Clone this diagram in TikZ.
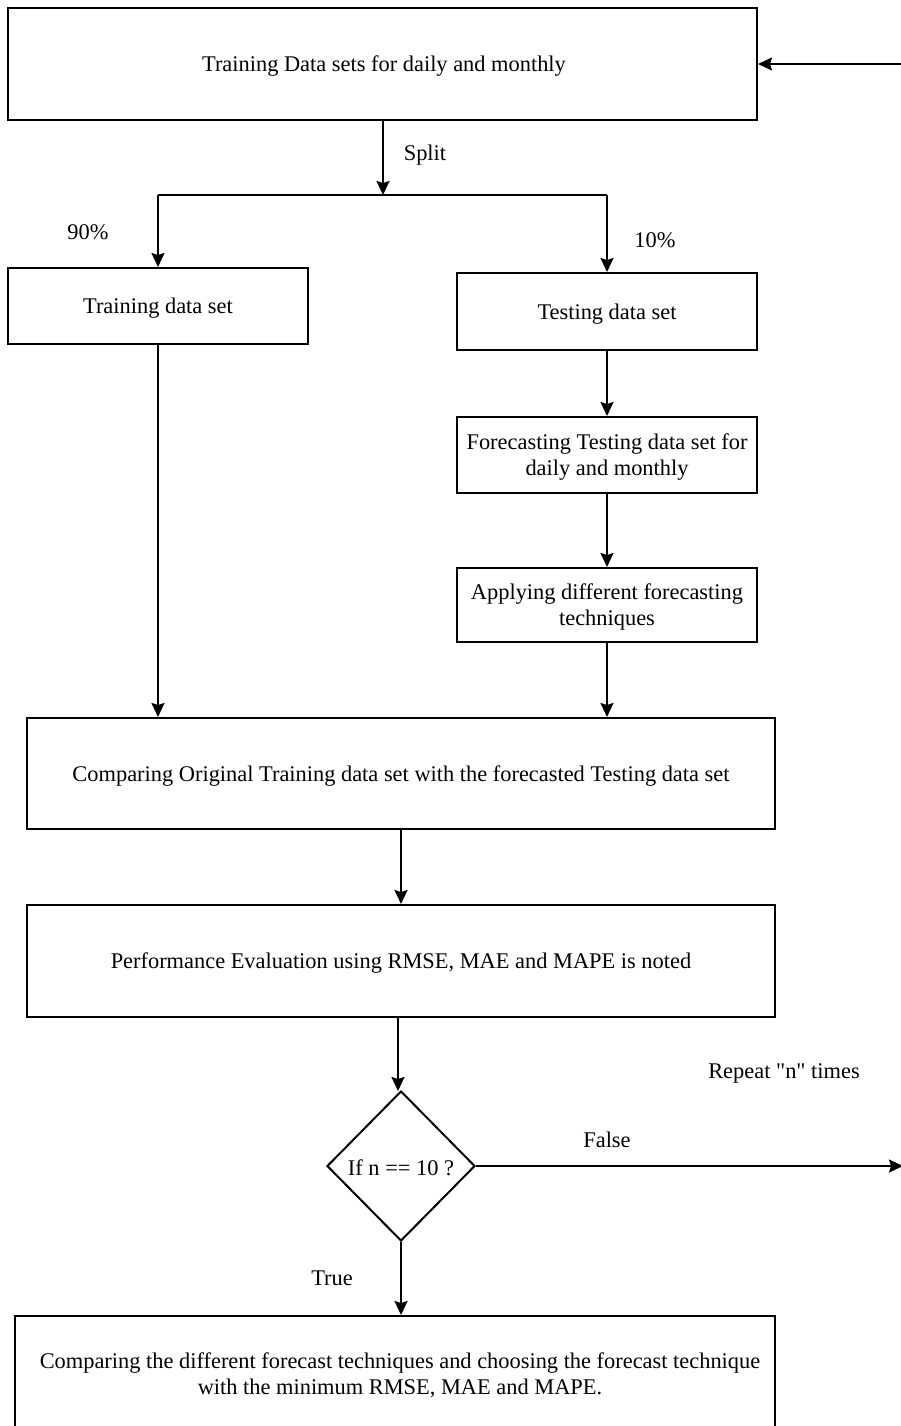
\documentclass[tikz,border=0pt]{standalone}
\usepackage{fontspec}
\setmainfont{Liberation Serif}[Ligatures=TeXOff]
\usetikzlibrary{arrows.meta,shapes.geometric}
\begin{document}
\begin{tikzpicture}[x=1pt,y=-1pt,
  font=\fontsize{22.4}{26}\selectfont,
  line width=2pt,
  box/.style={draw,rectangle,inner sep=0pt,align=center},
  decision/.style={draw,diamond,inner sep=0pt,minimum width=148pt,minimum height=150pt,aspect=1},
  flow/.style={-{Stealth[length=14pt,width=13pt,inset=2pt]}},
  lbl/.style={inner sep=0pt}]
\useasboundingbox (0,0) rectangle (901,1426);
\clip (0,0) rectangle (901,1426);

% process boxes
\node[box,minimum width=749pt,minimum height=112pt] (data) at (382.5,64) {};
\node[lbl] (datatxt) at (384,66) {Training Data sets for daily and monthly};
\node[box,minimum width=300pt,minimum height=76pt] (train) at (158,306) {};
\node[lbl] (traintxt) at (158,308) {Training data set};
\node[box,minimum width=300pt,minimum height=77pt] (test) at (607,311.5) {};
\node[lbl] (testtxt) at (607,314) {Testing data set};
\node[box,minimum width=300pt,minimum height=76pt] (fctest) at (607,455) {};
\node[lbl,align=center] (fctesttxt) at (607,457) {Forecasting Testing data set for\\daily and monthly};
\node[box,minimum width=300pt,minimum height=74pt] (apply) at (607,605) {};
\node[lbl,align=center] (applytxt) at (607,607) {Applying different forecasting\\techniques};
\node[box,minimum width=748pt,minimum height=111pt] (compare) at (401,773.5) {};
\node[lbl] (comparetxt) at (401,776) {Comparing Original Training data set with the forecasted Testing data set};
\node[box,minimum width=748pt,minimum height=112pt] (perf) at (401,961) {};
\node[lbl] (perftxt) at (401,963) {Performance Evaluation using RMSE, MAE and MAPE is noted};
\node[decision] (check) at (401,1166) {};
\node[lbl] (checktxt) at (401,1168) {If n == 10 ?};
\node[box,minimum width=760pt,minimum height=140pt] (choose) at (395,1386) {};
\node[lbl,align=center] (choosetxt) at (400,1375) {Comparing the different forecast techniques and choosing the forecast technique\\with the minimum RMSE, MAE and MAPE.};

% split into training and testing parts
\coordinate (splitpt) at (383,195);
\coordinate (splitL) at (158,195);
\coordinate (splitR) at (607,195);
\draw[flow] (data.south -| splitpt) -- (splitpt);
\draw (splitL) -- (splitR);
\draw[flow] (splitL) -- (train.north);
\draw[flow] (splitR) -- (test.north);

% testing branch
\draw[flow] (test.south) -- (fctest.north);
\draw[flow] (fctest.south) -- (apply.north);
\draw[flow] (apply.south) -- (apply.south |- compare.north);
\draw[flow] (train.south) -- (train.south |- compare.north);

% evaluation and decision
\draw[flow] (perf.south -| 398,0) -- (398,1091);
\draw[flow] (compare.south) -- (perf.north);
\draw[flow] (check.south) -- (check.south |- choose.north);

% loop back
\coordinate (loopout) at (903,1166);
\coordinate (loopin) at (905,64);
\draw[flow] (check.east) -- (loopout);
\draw[flow] (loopin) -- (data.east);

% labels
\node[lbl] (lsplit) at (425,155) {Split};
\node[lbl] (l90) at (88,232) {90\%};
\node[lbl] (l10) at (655,240) {10\%};
\node[lbl] (lrepeat) at (784,1073) {Repeat "n" times};
\node[lbl] (lfalse) at (607,1140) {False};
\node[lbl] (ltrue) at (332,1278) {True};
\end{tikzpicture}
\end{document}
